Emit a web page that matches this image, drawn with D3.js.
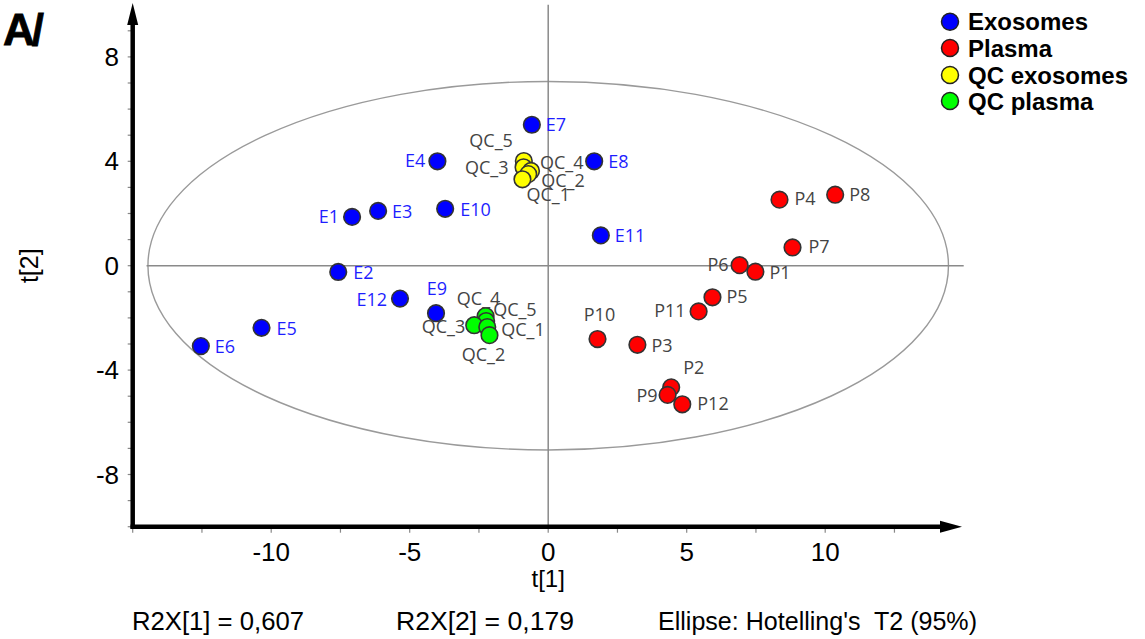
<!DOCTYPE html>
<html>
<head>
<meta charset="utf-8">
<script src="https://cdn.jsdelivr.net/npm/d3@7"></script>
<style>
  html, body { margin: 0; padding: 0; background: #fff; }
  svg { display: block; }
</style>
</head>
<body>
<svg id="chart" width="1145" height="639"></svg>
<script>
// PCA score plot: t[1] vs t[2]

const exosomeIds = ["E1","E2","E3","E4","E5","E6","E7","E8","E9","E10","E11","E12"];
const exosomeT1  = [-7.08,-7.58,-6.14,-4.00,-10.35,-12.54,-0.59,1.66,-4.05,-3.72,1.90,-5.35];
const exosomeT2  = [1.87,-0.24,2.10,4.00,-2.38,-3.08,5.40,4.00,-1.82,2.18,1.16,-1.26];

const plasmaIds = ["P1","P2","P3","P4","P5","P6","P7","P8","P9","P10","P11","P12"];
const plasmaT1  = [7.48,4.44,3.22,8.35,5.93,6.91,8.82,10.36,4.31,1.78,5.43,4.84];
const plasmaT2  = [-0.23,-4.66,-3.03,2.53,-1.21,0.02,0.70,2.72,-4.95,-2.81,-1.75,-5.31];

const qcExoIds = ["QC_5","QC_3","QC_4","QC_2","QC_1"];
const qcExoT1  = [-0.88,-0.89,-0.62,-0.72,-0.93];
const qcExoT2  = [4.01,3.77,3.63,3.51,3.31];

const qcPlasmaIds = ["QC_4","QC_5","QC_3","QC_1","QC_2"];
const qcPlasmaT1  = [-2.26,-2.24,-2.67,-2.20,-2.12];
const qcPlasmaT2  = [-1.93,-2.12,-2.28,-2.35,-2.66];

const legendLabels = ["Exosomes","Plasma","QC exosomes","QC plasma"];
const xTickValues = [-10,-5,0,5,10];
const yTickValues = [-8,-4,0,4,8];
const footerTexts = ["R2X[1] = 0,607","R2X[2] = 0,179","Ellipse: Hotelling's  T2 (95%)"];
// Hotelling's T2 (95%) ellipse semi-axes in score units
const ellipseT1 = 14.45;
const ellipseT2 = 7.06;

const groupStyle = [
  { fill: "#0000ff", text: "#1e1eff" },
  { fill: "#ff0000", text: "#444444" },
  { fill: "#ffff00", text: "#444444" },
  { fill: "#00ff00", text: "#444444" }
];

// label placement around each marker: [dx, dy, anchor]
const labelPlacement = [
  { E1:[-13,6,"end"], E2:[15,7,"start"], E3:[14,7,"start"], E4:[-12,6,"end"],
    E5:[15,7,"start"], E6:[14,7,"start"], E7:[14,6,"start"], E8:[14,7,"start"],
    E9:[1,-18,"middle"], E10:[15,7,"start"], E11:[14,7,"start"], E12:[-13,7,"end"] },
  { P1:[14,7,"start"], P2:[12,-13,"start"], P3:[14,7,"start"], P4:[15,5,"start"],
    P5:[14,6,"start"], P6:[-11,6,"end"], P7:[16,6,"start"], P8:[14,6,"start"],
    P9:[-10,7,"end"], P10:[2,-18,"middle"], P11:[-13,6,"end"], P12:[15,6,"start"] },
  { QC_5:[-11,-14,"end"], QC_3:[-15,7,"end"], QC_4:[9,-2,"start"],
    QC_2:[13,13,"start"], QC_1:[4,22,"start"] },
  { QC_4:[-7,-11,"middle"], QC_5:[7,-5,"start"], QC_3:[-9,8,"end"],
    QC_1:[14,9,"start"], QC_2:[-6,26,"middle"] }
];

const groups = [
  { ids: exosomeIds, t1: exosomeT1, t2: exosomeT2 },
  { ids: plasmaIds, t1: plasmaT1, t2: plasmaT2 },
  { ids: qcExoIds, t1: qcExoT1, t2: qcExoT2 },
  { ids: qcPlasmaIds, t1: qcPlasmaT1, t2: qcPlasmaT2 }
];

const svg = d3.select("#chart");
const x = d3.scaleLinear().domain([-15, 15]).range([132.7, 963.7]);
const y = d3.scaleLinear().domain([-10, 10]).range([526.7, 4.7]);

const axisX = x(-15), axisY = y(-10);

// panel tag
svg.append("text").attr("x", 3).attr("y", 45)
  .attr("font-family", "Liberation Sans, Arial, sans-serif")
  .attr("font-weight", "bold").attr("font-size", 44).attr("letter-spacing", -3)
  .attr("stroke", "#000").attr("stroke-width", 0.8)
  .text("A/");

// Hotelling ellipse
svg.append("ellipse")
  .attr("cx", x(0)).attr("cy", y(0))
  .attr("rx", x(ellipseT1) - x(0)).attr("ry", y(0) - y(ellipseT2))
  .attr("fill", "none").attr("stroke", "#9a9a9a").attr("stroke-width", 1.4);

// zero reference lines
svg.append("line")
  .attr("x1", x(-14.5)).attr("x2", x(15)).attr("y1", y(0)).attr("y2", y(0))
  .attr("stroke", "#8a8a8a").attr("stroke-width", 1.5);
svg.append("line")
  .attr("x1", x(0)).attr("x2", x(0)).attr("y1", y(10)).attr("y2", axisY)
  .attr("stroke", "#8a8a8a").attr("stroke-width", 1.5);

// tick marks
const yMinor = d3.range(-10, 10, 1);
svg.append("g").selectAll("line").data(yMinor).join("line")
  .attr("x1", axisX - 5).attr("x2", axisX).attr("y1", d => y(d)).attr("y2", d => y(d))
  .attr("stroke", "#888").attr("stroke-width", 1.2);
const xMinor = d3.range(-15, 15, 2.5);
svg.append("g").selectAll("line").data(xMinor).join("line")
  .attr("x1", d => x(d)).attr("x2", d => x(d)).attr("y1", axisY).attr("y2", axisY + 6)
  .attr("stroke", "#888").attr("stroke-width", 1.2);

// axes with arrows
svg.append("line")
  .attr("x1", axisX).attr("x2", axisX).attr("y1", axisY + 2).attr("y2", 22)
  .attr("stroke", "#000").attr("stroke-width", 4.5);
svg.append("path")
  .attr("d", `M${axisX - 5.5},25 L${axisX},3 L${axisX + 5.5},25 Z`).attr("fill", "#000");
svg.append("line")
  .attr("x1", axisX - 2.2).attr("x2", 942).attr("y1", axisY).attr("y2", axisY)
  .attr("stroke", "#000").attr("stroke-width", 4.5);
svg.append("path")
  .attr("d", `M940,${axisY - 6} L962,${axisY} L940,${axisY + 6} Z`).attr("fill", "#000");

// tick labels
const tickFont = "Liberation Sans, Arial, sans-serif";
svg.append("g").selectAll("text").data(yTickValues).join("text")
  .attr("x", 119).attr("y", d => y(d) + 9)
  .attr("text-anchor", "end").attr("font-family", tickFont).attr("font-size", 26)
  .text(d => d);
svg.append("g").selectAll("text").data(xTickValues).join("text")
  .attr("x", d => x(d)).attr("y", 561)
  .attr("text-anchor", "middle").attr("font-family", tickFont).attr("font-size", 26)
  .text(d => d);

// axis titles
svg.append("text").attr("x", x(0)).attr("y", 587)
  .attr("text-anchor", "middle").attr("font-family", tickFont).attr("font-size", 24)
  .text("t[1]");
svg.append("text").attr("transform", `translate(38,${y(0)}) rotate(-90)`)
  .attr("text-anchor", "middle").attr("font-family", tickFont).attr("font-size", 25)
  .text("t[2]");

// markers and labels
groups.forEach((g, gi) => {
  const rows = g.ids.map((id, i) => ({ id, t1: g.t1[i], t2: g.t2[i] }));
  const layer = svg.append("g");
  layer.selectAll("circle").data(rows).join("circle")
    .attr("cx", d => x(d.t1)).attr("cy", d => y(d.t2)).attr("r", 8.3)
    .attr("fill", groupStyle[gi].fill).attr("stroke", "#333").attr("stroke-width", 1.6);
  layer.selectAll("text").data(rows).join("text")
    .attr("x", d => x(d.t1) + labelPlacement[gi][d.id][0])
    .attr("y", d => y(d.t2) + labelPlacement[gi][d.id][1])
    .attr("text-anchor", d => labelPlacement[gi][d.id][2])
    .attr("font-family", "Open Sans, Noto Sans, sans-serif").attr("font-size", 18)
    .attr("fill", groupStyle[gi].text)
    .text(d => d.id);
});

// legend
const legend = svg.append("g");
const legendY = [21.7, 48, 75, 101];
legendLabels.forEach((lab, i) => {
  legend.append("circle").attr("cx", 950).attr("cy", legendY[i]).attr("r", 8.5)
    .attr("fill", groupStyle[i].fill).attr("stroke", "#222").attr("stroke-width", 1.5);
  legend.append("text").attr("x", 968).attr("y", legendY[i] + 8.5)
    .attr("font-family", tickFont).attr("font-weight", "bold").attr("font-size", 24)
    .text(lab);
});

// model summary footer
const footerX = [132, 396, 658];
const footerW = [172, 178, 319];
footerTexts.forEach((t, i) => {
  svg.append("text").attr("x", footerX[i]).attr("y", 630)
    .attr("font-family", tickFont).attr("font-size", 25)
    .attr("textLength", footerW[i]).attr("lengthAdjust", "spacingAndGlyphs")
    .style("white-space", "pre")
    .text(t);
});
</script>
</body>
</html>
